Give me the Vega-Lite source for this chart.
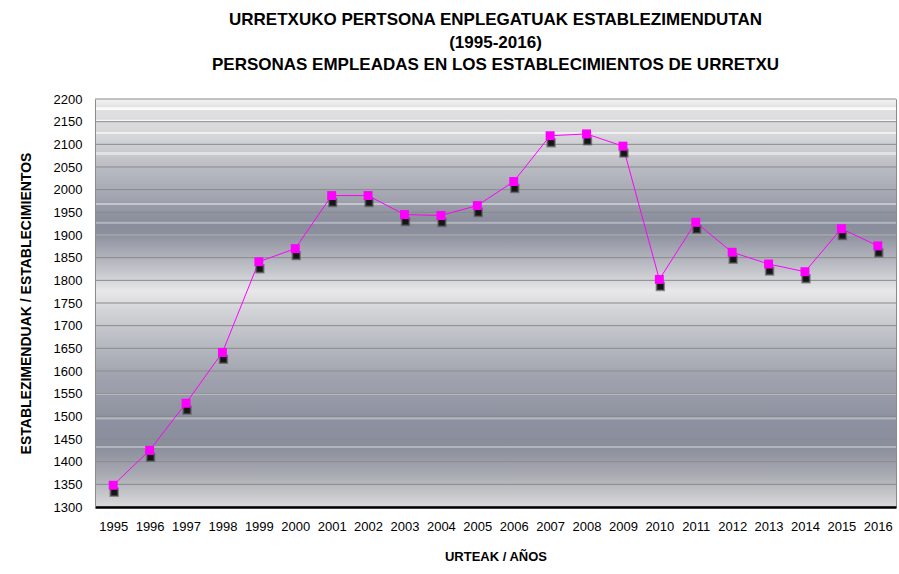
{
  "$schema": "https://vega.github.io/schema/vega-lite/v6.json",
  "width": 801,
  "height": 408,
  "autosize": {"type": "none"},
  "padding": {"left": 95, "top": 99, "right": 3, "bottom": 67},
  "background": "white",
  "title": {
    "text": ["URRETXUKO PERTSONA ENPLEGATUAK ESTABLEZIMENDUTAN", "(1995-2016)", "PERSONAS EMPLEADAS EN LOS ESTABLECIMIENTOS DE URRETXU"],
    "font": "Liberation Sans",
    "fontSize": 17,
    "fontWeight": "bold",
    "color": "black",
    "lineHeight": 22.5,
    "anchor": "middle",
    "offset": 19
  },
  "config": {
    "view": {"stroke": "#8c8c8c", "strokeWidth": 1},
    "axis": {"labelFont": "Liberation Sans", "titleFont": "Liberation Sans", "labelColor": "black", "titleColor": "black"},
    "axisY": {"tickCount": 18, "labelOverlap": false, "format": "d"}
  },
  "datasets": {
    "bg": [{"lo": 1300, "hi": 2200}],
    "grid": [{"v": 1300}, {"v": 1350}, {"v": 1400}, {"v": 1450}, {"v": 1500}, {"v": 1550}, {"v": 1600}, {"v": 1650}, {"v": 1700}, {"v": 1750}, {"v": 1800}, {"v": 1850}, {"v": 1900}, {"v": 1950}, {"v": 2000}, {"v": 2050}, {"v": 2100}, {"v": 2150}, {"v": 2200}],
    "emp": [
      {"year": "1995", "value": 1348}, {"year": "1996", "value": 1425}, {"year": "1997", "value": 1529},
      {"year": "1998", "value": 1641}, {"year": "1999", "value": 1841}, {"year": "2000", "value": 1870},
      {"year": "2001", "value": 1987}, {"year": "2002", "value": 1987}, {"year": "2003", "value": 1945},
      {"year": "2004", "value": 1943}, {"year": "2005", "value": 1965}, {"year": "2006", "value": 2018},
      {"year": "2007", "value": 2119}, {"year": "2008", "value": 2123}, {"year": "2009", "value": 2096},
      {"year": "2010", "value": 1802}, {"year": "2011", "value": 1928}, {"year": "2012", "value": 1862},
      {"year": "2013", "value": 1836}, {"year": "2014", "value": 1819}, {"year": "2015", "value": 1914},
      {"year": "2016", "value": 1876}
    ]
  },
  "layer": [
    {
      "data": {"name": "bg"},
      "mark": {
        "type": "rect",
        "color": {
          "gradient": "linear", "x1": 0, "y1": 0, "x2": 0, "y2": 1,
          "stops": [
            {"offset": 0, "color": "#f4f4f4"},
            {"offset": 0.02, "color": "#e2e2e4"},
            {"offset": 0.021, "color": "#fafafa"},
            {"offset": 0.026, "color": "#fafafa"},
            {"offset": 0.027, "color": "#e0e0e2"},
            {"offset": 0.05, "color": "#dcdcde"},
            {"offset": 0.051, "color": "#f6f6f6"},
            {"offset": 0.056, "color": "#f6f6f6"},
            {"offset": 0.057, "color": "#dadadc"},
            {"offset": 0.08, "color": "#d8d8db"},
            {"offset": 0.081, "color": "#f0f0f0"},
            {"offset": 0.086, "color": "#f0f0f0"},
            {"offset": 0.087, "color": "#d6d7da"},
            {"offset": 0.13, "color": "#c8cacf"},
            {"offset": 0.131, "color": "#e2e2e4"},
            {"offset": 0.136, "color": "#e2e2e4"},
            {"offset": 0.137, "color": "#c6c8cd"},
            {"offset": 0.17, "color": "#b9bbc2"},
            {"offset": 0.25, "color": "#9fa2ad"},
            {"offset": 0.255, "color": "#9a9eaa"},
            {"offset": 0.256, "color": "#c4c6cc"},
            {"offset": 0.26, "color": "#c4c6cc"},
            {"offset": 0.261, "color": "#989ca8"},
            {"offset": 0.3, "color": "#8a8e9c"},
            {"offset": 0.301, "color": "#b0b3bc"},
            {"offset": 0.305, "color": "#b0b3bc"},
            {"offset": 0.306, "color": "#898d9b"},
            {"offset": 0.33, "color": "#8c909e"},
            {"offset": 0.331, "color": "#b6b9c1"},
            {"offset": 0.335, "color": "#b6b9c1"},
            {"offset": 0.336, "color": "#8f93a0"},
            {"offset": 0.36, "color": "#a0a3ae"},
            {"offset": 0.42, "color": "#c2c4ca"},
            {"offset": 0.47, "color": "#e8e8ea"},
            {"offset": 0.52, "color": "#d2d3d7"},
            {"offset": 0.6, "color": "#b8bac2"},
            {"offset": 0.68, "color": "#a0a3ae"},
            {"offset": 0.72, "color": "#9a9daa"},
            {"offset": 0.721, "color": "#c0c2c8"},
            {"offset": 0.725, "color": "#c0c2c8"},
            {"offset": 0.726, "color": "#989ca8"},
            {"offset": 0.78, "color": "#8e92a0"},
            {"offset": 0.781, "color": "#b4b7bf"},
            {"offset": 0.785, "color": "#b4b7bf"},
            {"offset": 0.786, "color": "#8d91a0"},
            {"offset": 0.85, "color": "#8a8e9c"},
            {"offset": 0.851, "color": "#b2b5bd"},
            {"offset": 0.855, "color": "#b2b5bd"},
            {"offset": 0.856, "color": "#8c909d"},
            {"offset": 0.92, "color": "#a8aab2"},
            {"offset": 1, "color": "#dadada"}
          ]
        }
      },
      "encoding": {
        "y": {
          "field": "lo", "type": "quantitative",
          "title": "ESTABLEZIMENDUAK / ESTABLECIMIENTOS",
          "scale": {"domain": [1300, 2200], "nice": false, "zero": false},
          "axis": {
            "tickCount": 18, "labelOverlap": false, "format": "d",
            "grid": false, "ticks": false, "labelPadding": 13, "labelFontSize": 13,
            "domainColor": "#8c8c8c", "titleFontSize": 14, "titleFontWeight": "bold", "titlePadding": 20, "zindex": 1
          }
        },
        "y2": {"field": "hi"}
      }
    },
    {
      "data": {"name": "grid"},
      "mark": {"type": "rule", "color": "#8a8a8a", "strokeWidth": 1},
      "encoding": {"y": {"field": "v", "type": "quantitative", "title": "ESTABLEZIMENDUAK / ESTABLECIMIENTOS"}}
    },
    {
      "data": {"name": "emp"},
      "mark": {"type": "line", "color": "#ff00ff", "strokeWidth": 1},
      "encoding": {
        "x": {
          "field": "year", "type": "ordinal", "title": "URTEAK / AÑOS",
          "scale": {"type": "point", "padding": 0.5},
          "axis": {"labelAngle": 0, "ticks": false, "labelPadding": 13, "labelFontSize": 13, "domainColor": "black", "domainWidth": 2.5, "titleFontSize": 13, "titleFontWeight": "bold", "titlePadding": 17, "zindex": 1}
        },
        "y": {"field": "value", "type": "quantitative", "title": "ESTABLEZIMENDUAK / ESTABLECIMIENTOS"}
      }
    },
    {
      "data": {"name": "emp"},
      "mark": {"type": "square", "size": 55, "filled": true, "color": "#151515", "opacity": 1, "stroke": "#555555", "strokeWidth": 2, "strokeOpacity": 0.6, "xOffset": 1, "yOffset": 7},
      "encoding": {
        "x": {"field": "year", "type": "ordinal", "title": "URTEAK / AÑOS"},
        "y": {"field": "value", "type": "quantitative", "title": "ESTABLEZIMENDUAK / ESTABLECIMIENTOS"}
      }
    },
    {
      "data": {"name": "emp"},
      "mark": {"type": "square", "size": 80, "filled": true, "color": "#ff00ff", "opacity": 1},
      "encoding": {
        "x": {"field": "year", "type": "ordinal", "title": "URTEAK / AÑOS"},
        "y": {"field": "value", "type": "quantitative", "title": "ESTABLEZIMENDUAK / ESTABLECIMIENTOS"}
      }
    }
  ]
}
